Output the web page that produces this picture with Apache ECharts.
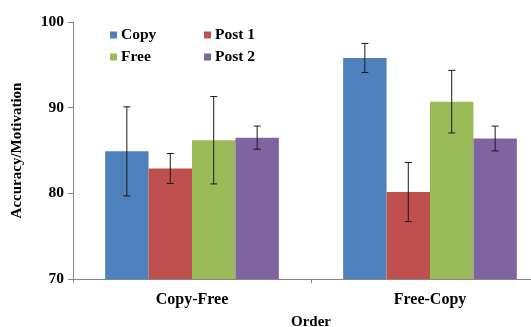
<!DOCTYPE html>
<html>
<head>
<meta charset="utf-8">
<script src="https://cdn.jsdelivr.net/npm/echarts@6/dist/echarts.min.js"></script>
<style>html,body{margin:0;padding:0;background:#fff;}#c{width:531px;height:327px;}</style>
</head>
<body>
<div id="c"></div>
<script>
var categories = ['Copy-Free', 'Free-Copy'];
var seriesNames = ['Copy', 'Post 1', 'Free', 'Post 2'];
var copyVals = [84.9, 95.8];
var post1Vals = [82.9, 80.15];
var freeVals = [86.2, 90.7];
var post2Vals = [86.5, 86.4];
var copyErr = [5.2, 1.7];
var post1Err = [1.75, 3.45];
var freeErr = [5.1, 3.65];
var post2Err = [1.35, 1.45];
var yTicks = [70, 80, 90, 100];

var colors = ['#4F81BD', '#C0504D', '#9BBB59', '#8064A2'];
var values = [copyVals, post1Vals, freeVals, post2Vals];
var errs = [copyErr, post1Err, freeErr, post2Err];
var groupFrac = 0.73;
var font = 'Liberation Serif';

var chart = echarts.init(document.getElementById('c'));
var series = [];
values.forEach(function (vals, i) {
  series.push({
    name: seriesNames[i], type: 'bar', data: vals,
    barGap: '0%', barCategoryGap: '27%',
    itemStyle: { color: colors[i] }
  });
});
values.forEach(function (vals, i) {
  var data = vals.map(function (v, k) { return [k, v - errs[i][k], v + errs[i][k]]; });
  series.push({
    type: 'custom', silent: true, z: 10,
    data: data,
    encode: { x: 0, y: [1, 2] },
    renderItem: function (params, api) {
      var cat = api.value(0);
      var lo = api.coord([cat, api.value(1)]);
      var hi = api.coord([cat, api.value(2)]);
      var band = api.size([1, 0])[0];
      var bw = band * groupFrac / 4;
      var x = lo[0] + (i - 1.5) * bw;
      var cap = 3.5;
      var st = { stroke: '#1a1a1a', lineWidth: 1 };
      return {
        type: 'group', children: [
          { type: 'line', shape: { x1: x, y1: lo[1], x2: x, y2: hi[1] }, style: st },
          { type: 'line', shape: { x1: x - cap, y1: lo[1], x2: x + cap, y2: lo[1] }, style: st },
          { type: 'line', shape: { x1: x - cap, y1: hi[1], x2: x + cap, y2: hi[1] }, style: st }
        ]
      };
    }
  });
});

function legendAt(name, left, top) {
  return {
    data: [name], left: left, top: top, padding: 0, itemWidth: 7, itemHeight: 7, itemGap: 0,
    icon: 'rect',
    textStyle: { fontFamily: font, fontWeight: 'bold', fontSize: 15.5, color: '#000', padding: [0, 0, 0, -1] }
  };
}

chart.setOption({
  animation: false,
  grid: { left: 73, right: -18, top: 22, bottom: 48, containLabel: false, outerBoundsMode: 'none' },
  legend: [
    legendAt('Copy', 110, 27),
    legendAt('Post 1', 204, 27),
    legendAt('Free', 110, 49),
    legendAt('Post 2', 204, 49)
  ],
  xAxis: {
    type: 'category', data: categories,
    name: 'Order', nameLocation: 'middle', nameGap: 36,
    nameTextStyle: { fontFamily: font, fontWeight: 'bold', fontSize: 15, color: '#000' },
    axisLine: { lineStyle: { color: '#868686' } },
    axisTick: { show: true, length: 4, lineStyle: { color: '#868686' } },
    axisLabel: { fontFamily: font, fontWeight: 'bold', fontSize: 16, color: '#000', margin: 13 }
  },
  yAxis: {
    type: 'value', min: yTicks[0], max: yTicks[yTicks.length - 1], interval: 10,
    name: 'Accuracy/Motivation', nameLocation: 'middle', nameGap: 48,
    nameTextStyle: { fontFamily: font, fontWeight: 'bold', fontSize: 15, color: '#000' },
    axisLine: { show: true, lineStyle: { color: '#868686' } },
    axisTick: { show: true, length: 5, lineStyle: { color: '#868686' } },
    splitLine: { show: false },
    axisLabel: { fontFamily: font, fontWeight: 'bold', fontSize: 15.5, color: '#000', margin: 9 }
  },
  series: series
});
</script>
</body>
</html>
